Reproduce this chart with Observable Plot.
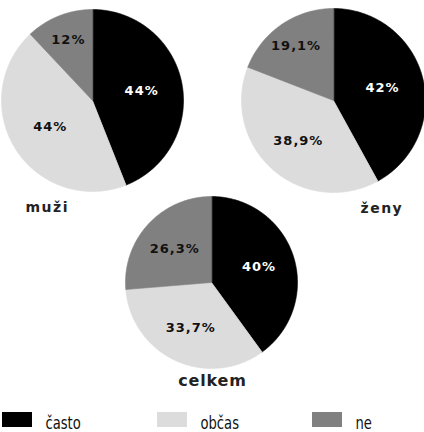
<!DOCTYPE html>
<html><head><meta charset="utf-8">
<script src="https://cdn.jsdelivr.net/npm/d3@7"></script>
<script src="https://cdn.jsdelivr.net/npm/@observablehq/plot@0.6"></script>
<style>body{margin:0;background:#fff}</style>
</head><body><div id="chart"></div>
<script>
const categories = ["často", "občas", "ne"];
const colors = ["#000000", "#dcdcdc", "#808080"];
const groups = ["muži", "ženy", "celkem"];
const valuesMuzi = [44, 44, 12];
const valuesZeny = [42, 38.9, 19.1];
const valuesCelkem = [40, 33.7, 26.3];
const series = [valuesMuzi, valuesZeny, valuesCelkem];

const layout = [
  {cx: 92, cy: 100, r: 91, tx: 25, ty: 211, anchor: "start"},
  {cx: 333, cy: 100, r: 92, tx: 360, ty: 212, anchor: "start"},
  {cx: 211, cy: 282, r: 86, tx: 212, ty: 385, anchor: "middle"}
];

const W = 424, H = 432;
const fmt = v => String(v).replace(".", ",") + "%";
const slices = [], labels = [], titles = [];
const pie = d3.pie().sort(null).value(d => d);
series.forEach((vals, gi) => {
  const L = layout[gi];
  titles.push({text: groups[gi], x: L.tx, y: L.ty, anchor: L.anchor});
  pie(vals).forEach((a, ci) => {
    const key = gi + "-" + ci;
    slices.push({key, cat: categories[ci], x: L.cx, y: L.cy});
    const n = Math.max(2, Math.ceil((a.endAngle - a.startAngle) / 0.01));
    for (let k = 0; k <= n; k++) {
      const t = a.startAngle + (a.endAngle - a.startAngle) * k / n;
      slices.push({key, cat: categories[ci], x: L.cx + L.r * Math.sin(t), y: L.cy - L.r * Math.cos(t)});
    }
    const frac = (a.endAngle - a.startAngle) / (2 * Math.PI);
    const m = (a.startAngle + a.endAngle) / 2, lr = L.r * (frac < 0.2 ? 0.72 : frac > 0.42 ? 0.55 : 0.58);
    labels.push({cat: categories[ci], text: fmt(vals[ci]), x: L.cx + lr * Math.sin(m), y: L.cy - lr * Math.cos(m)});
  });
});
const legend = categories.map((c, i) => ({cat: c, x: 2 + i * 155}));

const chart = Plot.plot({
  width: W, height: H, margin: 0,
  x: {domain: [0, W], range: [0, W], axis: null},
  y: {domain: [0, H], range: [0, H], axis: null},
  color: {domain: categories, range: colors},
  style: {background: "white"},
  marks: [
    Plot.line(slices, {x: "x", y: "y", z: "key", fill: "cat", stroke: "cat", strokeWidth: 0.6, curve: "linear-closed"}),
    Plot.text(labels.filter(d => d.cat === categories[0]), {x: "x", y: "y", text: "text", fill: "white", fontWeight: "bold", fontSize: 13, fontFamily: "DejaVu Sans"}),
    Plot.text(labels.filter(d => d.cat !== categories[0]), {x: "x", y: "y", text: "text", fill: "#111", fontWeight: "bold", fontSize: 13, fontFamily: "DejaVu Sans"}),
    Plot.text(titles.filter(d => d.anchor === "start"), {x: "x", y: "y", text: "text", textAnchor: "start", lineAnchor: "bottom", fill: "#222", fontWeight: "bold", fontSize: 14, fontFamily: "DejaVu Sans"}),
    Plot.text(titles.filter(d => d.anchor === "middle"), {x: "x", y: "y", text: "text", textAnchor: "middle", lineAnchor: "bottom", fill: "#222", fontWeight: "bold", fontSize: 16, fontFamily: "DejaVu Sans"}),
    Plot.rect(legend, {x1: "x", x2: d => d.x + 30, y1: 412, y2: 427, fill: "cat"}),
    Plot.text(legend, {x: d => d.x + 43, y: 428, text: "cat", textAnchor: "start", lineAnchor: "bottom", fill: "#111", fontSize: 18, fontFamily: "DejaVu Sans"})
  ]
});
const tg = chart.querySelectorAll('g[aria-label="text"]');
const spacing = ["1", "1", "1.5", "0.8", null];
tg.forEach((g, i) => { if (spacing[i]) g.setAttribute("letter-spacing", spacing[i]); });
const lg = tg[tg.length - 1];
lg.querySelectorAll("text").forEach(t => {
  const tr = t.getAttribute("transform");
  if (tr) t.setAttribute("transform", tr + " scale(0.73,1)");
});
document.getElementById("chart").appendChild(chart);
</script>
</body></html>
